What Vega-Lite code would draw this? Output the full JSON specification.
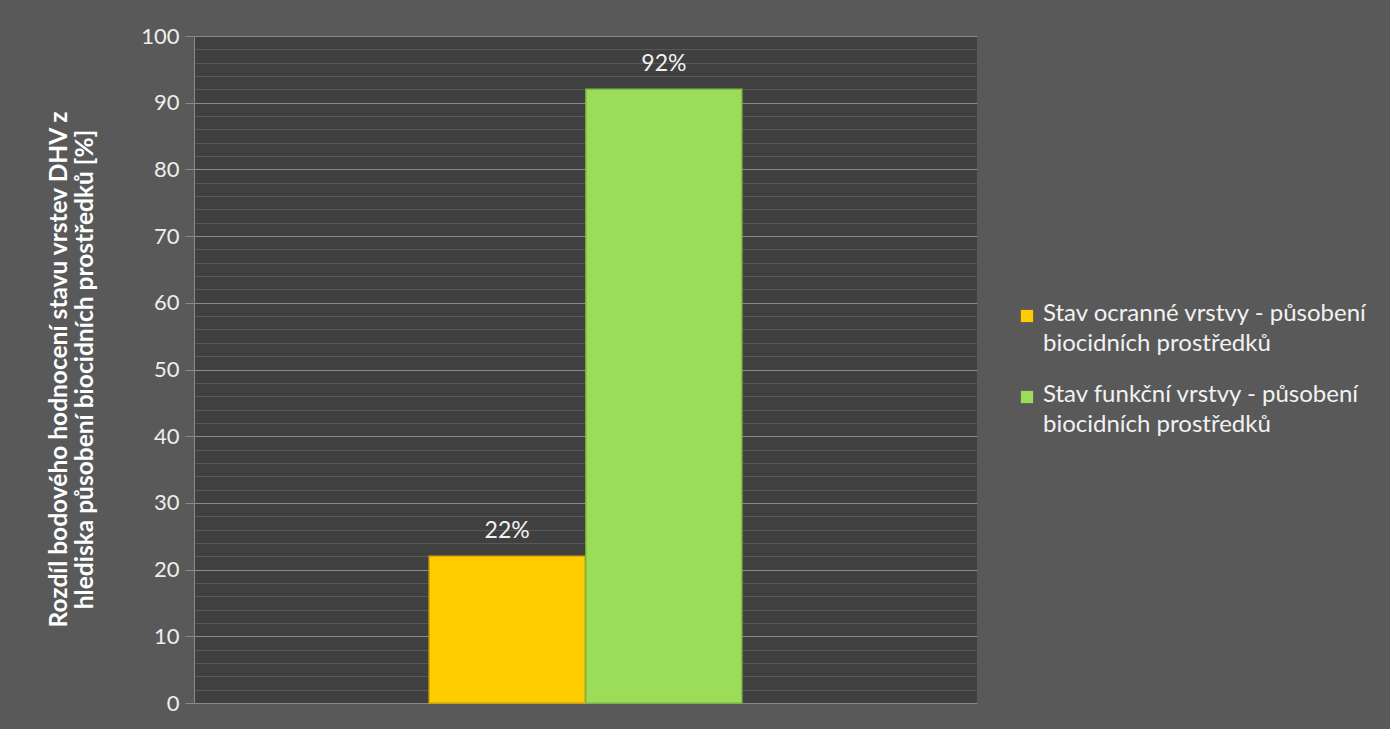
{
  "$schema": "https://vega.github.io/schema/vega-lite/v6.json",
  "width": 783,
  "height": 667,
  "autosize": {"type": "none"},
  "padding": {"left": 194, "top": 36, "right": 413, "bottom": 26},
  "background": "#595959",
  "config": {"view": {"fill": "#404040", "stroke": null}, "font": "Lato"},
  "data": {
    "values": [
      {"serie": "Stav ocranné vrstvy - působení biocidních prostředků", "value": 22, "label": "22%"},
      {"serie": "Stav funkční vrstvy - působení biocidních prostředků", "value": 92, "label": "92%"}
    ]
  },
  "encoding": {
    "x": {
      "field": "serie",
      "type": "nominal",
      "sort": null,
      "axis": null,
      "scale": {
        "domain": ["_left", "Stav ocranné vrstvy - působení biocidních prostředků", "Stav funkční vrstvy - působení biocidních prostředků", "_right"],
        "paddingInner": 0.006,
        "paddingOuter": 0.5
      }
    },
    "y": {
      "field": "value",
      "type": "quantitative",
      "scale": {"domain": [0, 100], "nice": false},
      "axis": {
        "values": [0, 2, 4, 6, 8, 10, 12, 14, 16, 18, 20, 22, 24, 26, 28, 30, 32, 34, 36, 38, 40, 42, 44, 46, 48, 50, 52, 54, 56, 58, 60, 62, 64, 66, 68, 70, 72, 74, 76, 78, 80, 82, 84, 86, 88, 90, 92, 94, 96, 98, 100],
        "labelExpr": "datum.value % 10 === 0 ? datum.label : ''",
        "gridColor": {"condition": {"test": "datum.value % 10 === 0", "value": "#8a8a8a"}, "value": "#585858"},
        "tickColor": {"condition": {"test": "datum.value % 10 === 0", "value": "#8a8a8a"}, "value": "transparent"},
        "tickSize": 9,
        "domainColor": "#8a8a8a",
        "labelFontSize": 22,
        "labelColor": "#eeeeee",
        "labelPadding": 6,
        "title": ["Rozdíl bodového hodnocení stavu vrstev DHV z", "hlediska působení biocidních prostředků [%]"],
        "titleFontSize": 24.5,
        "titleFontWeight": "bold",
        "titleColor": "#ffffff",
        "titleAngle": -90,
        "titleAlign": "center",
        "titleBaseline": "top",
        "titleX": -147,
        "titleY": 333,
        "titleLineHeight": 26
      }
    }
  },
  "layer": [
    {
      "mark": {"type": "bar", "strokeWidth": 1.5},
      "encoding": {
        "stroke": {
          "field": "serie",
          "type": "nominal",
          "sort": null,
          "scale": {"range": ["#D9A800", "#7FBF45"]},
          "legend": null
        },
        "color": {
          "field": "serie",
          "type": "nominal",
          "sort": null,
          "scale": {"range": ["#FFCC00", "#9BDD58"]},
          "legend": {
            "orient": "none",
            "legendX": 821,
            "legendY": 268,
            "title": null,
            "symbolType": "square",
            "symbolSize": 150,
            "symbolStrokeWidth": 0,
            "labelFontSize": 24,
            "labelColor": "#f2f2f2",
            "labelLimit": 400,
            "rowPadding": 27,
            "labelExpr": "datum.label == 'Stav ocranné vrstvy - působení biocidních prostředků' ? ['Stav ocranné vrstvy - působení', 'biocidních prostředků'] : ['Stav funkční vrstvy - působení', 'biocidních prostředků']",
            "encode": {"labels": {"update": {"lineHeight": {"value": 30}, "baseline": {"value": "top"}, "dy": {"value": -14}}}}
          }
        }
      }
    },
    {
      "mark": {"type": "text", "dy": -25, "fontSize": 23, "color": "#f2f2f2"},
      "encoding": {"text": {"field": "label", "type": "nominal"}}
    }
  ]
}
